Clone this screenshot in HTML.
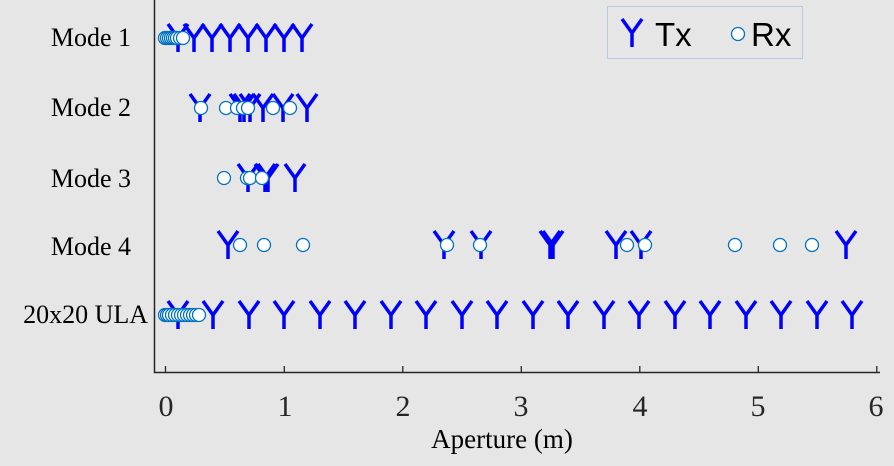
<!DOCTYPE html>
<html><head><style>
html,body{margin:0;padding:0;background:#e6e6e6;}
svg{display:block;}
.lab{font-family:"Liberation Serif",serif;font-size:26px;fill:#000;}
.tk{font-family:"Liberation Serif",serif;font-size:30px;fill:#262626;}
</style></head><body>
<svg width="894" height="466" viewBox="0 0 894 466" xmlns="http://www.w3.org/2000/svg">
<defs>
<g id="Y"><path d="M-10,-14 L0,0 L10,-14 M0,0 L0,14" stroke="#0000ff" stroke-width="3.5" fill="none"/></g>
<g id="O"><circle r="6.5" fill="#fff" stroke="#0072bd" stroke-width="1.3"/></g>
</defs>
<rect width="894" height="466" fill="#e6e6e6"/>
<path d="M154.5,0 V372.5 H880" stroke="#262626" stroke-width="1.5" fill="none"/>
<g stroke="#262626" stroke-width="1.3">
<line x1="165.5" y1="372" x2="165.5" y2="366"/><line x1="284.3" y1="372" x2="284.3" y2="366"/>
<line x1="402.8" y1="372" x2="402.8" y2="366"/><line x1="521.3" y1="372" x2="521.3" y2="366"/>
<line x1="639.8" y1="372" x2="639.8" y2="366"/><line x1="758.3" y1="372" x2="758.3" y2="366"/>
<line x1="876.8" y1="372" x2="876.8" y2="366"/>
</g>
<g class="tk" text-anchor="middle">
<text x="166" y="416">0</text><text x="285" y="416">1</text><text x="403" y="416">2</text>
<text x="521" y="416">3</text><text x="640" y="416">4</text><text x="758" y="416">5</text><text x="876" y="416">6</text>
</g>
<text x="502" y="448" text-anchor="middle" style="font-family:'Liberation Serif',serif;font-size:27px;fill:#000">Aperture (m)</text>
<g class="lab" text-anchor="end">
<text x="131" y="46">Mode 1</text><text x="131" y="116">Mode 2</text>
<text x="131" y="187">Mode 3</text><text x="131" y="255">Mode 4</text>
<text x="148" y="323">20x20 ULA</text>
</g>
<g transform="translate(0,38)">
<use href="#Y" x="178"/><use href="#Y" x="194"/><use href="#Y" x="212"/><use href="#Y" x="230"/>
<use href="#Y" x="248"/><use href="#Y" x="266"/><use href="#Y" x="284"/><use href="#Y" x="302"/>
<use href="#O" x="165"/><use href="#O" x="167"/><use href="#O" x="169"/><use href="#O" x="171"/>
<use href="#O" x="173"/><use href="#O" x="175"/><use href="#O" x="177"/><use href="#O" x="180"/><use href="#O" x="183"/>
</g>
<g transform="translate(0,108)">
<use href="#Y" x="200"/><use href="#Y" x="240"/><use href="#Y" x="244"/><use href="#Y" x="250"/>
<use href="#Y" x="263"/><use href="#Y" x="283"/><use href="#Y" x="307"/>
<use href="#O" x="201"/><use href="#O" x="226"/><use href="#O" x="237"/><use href="#O" x="243"/>
<use href="#O" x="248"/><use href="#O" x="273"/><use href="#O" x="290"/>
</g>
<g transform="translate(0,178)">
<use href="#Y" x="248"/><use href="#Y" x="265"/><use href="#Y" x="268"/><use href="#Y" x="295"/>
<use href="#O" x="224"/><use href="#O" x="247"/><use href="#O" x="250"/><use href="#O" x="262"/>
</g>
<g transform="translate(0,245)">
<use href="#Y" x="228"/><use href="#Y" x="444"/><use href="#Y" x="481"/><use href="#Y" x="550"/>
<use href="#Y" x="553"/><use href="#Y" x="616"/><use href="#Y" x="641"/><use href="#Y" x="846"/>
<use href="#O" x="240"/><use href="#O" x="264"/><use href="#O" x="303"/><use href="#O" x="447"/>
<use href="#O" x="480"/><use href="#O" x="627"/><use href="#O" x="645"/><use href="#O" x="735"/>
<use href="#O" x="780"/><use href="#O" x="812"/>
</g>
<g transform="translate(0,315)">
<use href="#Y" x="178"/><use href="#Y" x="213"/><use href="#Y" x="249"/><use href="#Y" x="284"/>
<use href="#Y" x="320"/><use href="#Y" x="355"/><use href="#Y" x="391"/><use href="#Y" x="426"/>
<use href="#Y" x="462"/><use href="#Y" x="497"/><use href="#Y" x="533"/><use href="#Y" x="568"/>
<use href="#Y" x="604"/><use href="#Y" x="639"/><use href="#Y" x="675"/><use href="#Y" x="710"/>
<use href="#Y" x="746"/><use href="#Y" x="781"/><use href="#Y" x="817"/><use href="#Y" x="852"/>
<use href="#O" x="165"/><use href="#O" x="167"/><use href="#O" x="169"/><use href="#O" x="172"/>
<use href="#O" x="175"/><use href="#O" x="178"/><use href="#O" x="181"/><use href="#O" x="184"/>
<use href="#O" x="187"/><use href="#O" x="190"/><use href="#O" x="193"/><use href="#O" x="196"/>
<use href="#O" x="199"/>
</g>
<rect x="607.5" y="6.5" width="195" height="52" fill="#e6e6e6" stroke="#b8c8e8" stroke-width="1"/>
<use href="#Y" x="632" y="33"/>
<text x="655" y="46" style="font-family:'Liberation Sans',sans-serif;font-size:33px;fill:#000">Tx</text>
<use href="#O" x="738" y="34"/>
<text x="751" y="46" style="font-family:'Liberation Sans',sans-serif;font-size:33px;fill:#000">Rx</text>
</svg>
</body></html>
